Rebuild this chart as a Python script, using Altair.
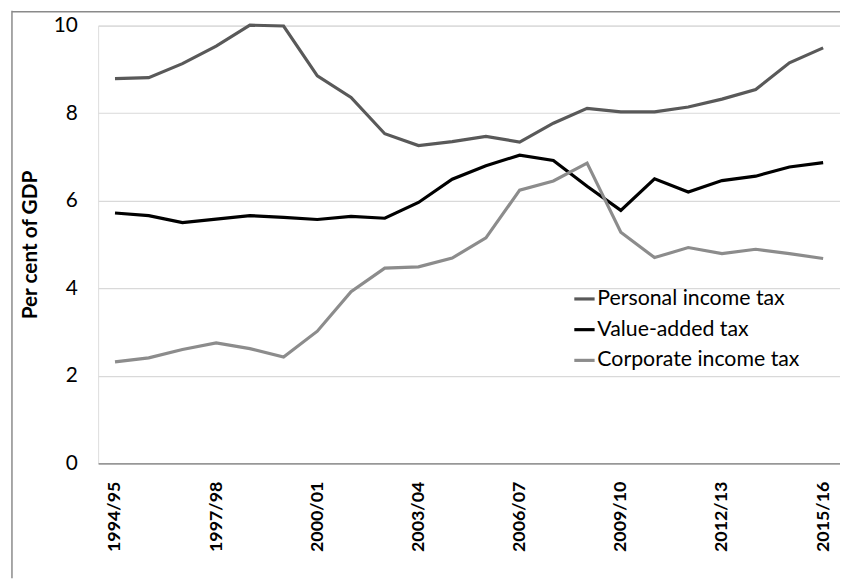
import altair as alt
import pandas as pd

years = ["1994/95", "1995/96", "1996/97", "1997/98", "1998/99", "1999/00", "2000/01",
         "2001/02", "2002/03", "2003/04", "2004/05", "2005/06", "2006/07", "2007/08",
         "2008/09", "2009/10", "2010/11", "2011/12", "2012/13", "2013/14", "2014/15", "2015/16"]

personal_income_tax = [8.79, 8.81, 9.13, 9.53, 10.01, 9.99, 8.85, 8.36, 7.53, 7.26, 7.35, 7.47,
                       7.34, 7.77, 8.11, 8.03, 8.03, 8.14, 8.32, 8.54, 9.15, 9.49]
value_added_tax = [5.72, 5.66, 5.50, 5.58, 5.66, 5.62, 5.57, 5.64, 5.60, 5.96, 6.49, 6.80,
                   7.04, 6.92, 6.33, 5.78, 6.50, 6.20, 6.46, 6.56, 6.77, 6.87]
corporate_income_tax = [2.32, 2.41, 2.60, 2.75, 2.62, 2.43, 3.02, 3.92, 4.46, 4.49, 4.69, 5.15,
                        6.24, 6.45, 6.86, 5.28, 4.70, 4.93, 4.79, 4.89, 4.79, 4.68]

series_names = ["Personal income tax", "Value-added tax", "Corporate income tax"]
series_colors = ["#595959", "#000000", "#8c8c8c"]
label_years = ["1994/95", "1997/98", "2000/01", "2003/04", "2006/07", "2009/10", "2012/13", "2015/16"]

rows = []
for name, vals in zip(series_names, [personal_income_tax, value_added_tax, corporate_income_tax]):
    for i, (y, v) in enumerate(zip(years, vals)):
        rows.append({"year": y, "value": v, "tax": name, "order": i})
df = pd.DataFrame(rows)

FONT = "Lato"
W, H = 749, 442
PAD_TOP, PAD_BOTTOM = 15, 116

lines = alt.Chart(df).mark_line(strokeWidth=3.2, strokeJoin="miter").encode(
    x=alt.X("year:O", sort=years,
            scale=alt.Scale(type="point", padding=0.5),
            axis=alt.Axis(title=None, values=label_years, labelAngle=-90,
                          labelFont=FONT, labelFontSize=18, labelFontWeight="bold",
                          labelColor="#000000", labelPadding=18, ticks=False,
                          domainColor="#7f7f7f", domainWidth=1.5, grid=False)),
    y=alt.Y("value:Q", scale=alt.Scale(domain=[0, 10], nice=False),
            axis=alt.Axis(title="Per cent of GDP", values=[0, 2, 4, 6, 8, 10],
                          domain=False, ticks=False, labelFont=FONT, labelFontSize=21,
                          labelColor="#000000", labelPadding=21,
                          titleFont=FONT, titleFontSize=21, titleFontWeight="bold",
                          titleColor="#000000", titlePadding=13,
                          gridColor="#d9d9d9", gridWidth=1.2)),
    color=alt.Color("tax:N", scale=alt.Scale(domain=series_names, range=series_colors),
                    legend=alt.Legend(title=None, orient="none", legendX=479, legendY=264,
                                      symbolType="stroke", symbolStrokeWidth=3.2,
                                      symbolSize=420, labelFont=FONT, labelFontSize=21.5,
                                      labelColor="#000000", rowPadding=8, labelOffset=1,
                                      labelLimit=400)),
    order="order:Q",
)

frame = alt.Chart(pd.DataFrame({"k": [0]})).mark_rule(color="#8a8a8a", strokeWidth=1.5).encode(
    x=alt.value(-87), y=alt.value(-PAD_TOP), y2=alt.value(H + PAD_BOTTOM)
)
frame_top = alt.Chart(pd.DataFrame({"k": [0]})).mark_rule(color="#8a8a8a", strokeWidth=1.5).encode(
    x=alt.value(-87), x2=alt.value(W + 10), y=alt.value(-PAD_TOP + 1)
)

chart = alt.layer(frame, frame_top, lines).properties(
    width=W, height=H,
    padding={"left": 91, "top": PAD_TOP, "right": 0, "bottom": PAD_BOTTOM},
    autosize=alt.AutoSizeParams(type="none"),
).configure_view(stroke=None).configure(background="white")

chart.save("out.html", embed_options={"renderer": "svg", "actions": False})
